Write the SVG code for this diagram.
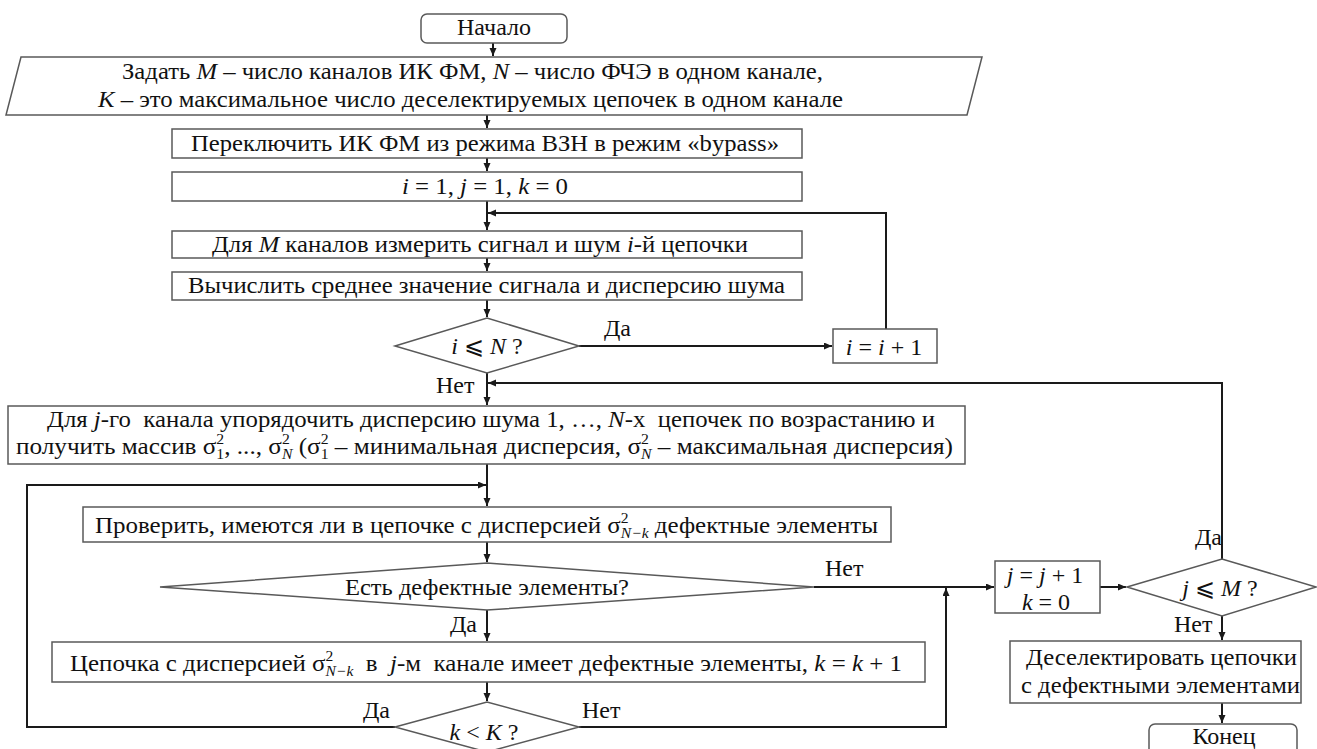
<svg xmlns="http://www.w3.org/2000/svg" width="1317" height="749" viewBox="0 0 1317 749">
<defs>
<style>
.t{font-family:'Liberation Serif','Times New Roman',serif;font-size:24px;fill:#111}
.i{font-style:italic}
.s{font-size:15px}
.m{text-anchor:middle}
.box{fill:#fff;stroke:#595959;stroke-width:1.5}
.ln{fill:none;stroke:#1a1a1a;stroke-width:2}
</style>
<marker id="ar" markerUnits="userSpaceOnUse" markerWidth="9" markerHeight="8" refX="8" refY="3.5" orient="auto">
<path d="M0,0 L8,3.5 L0,7 z" fill="#1a1a1a"/>
</marker>
</defs>
<rect width="1317" height="749" fill="#fff"/>

<g id="connectors">
<path class="ln" d="M493,43 V56" marker-end="url(#ar)"/>
<path class="ln" d="M487,115 V128" marker-end="url(#ar)"/>
<path class="ln" d="M487,158 V171" marker-end="url(#ar)"/>
<path class="ln" d="M487,201 V230" marker-end="url(#ar)"/>
<path class="ln" d="M886,329 V213 H488" marker-end="url(#ar)"/>
<path class="ln" d="M487,258 V271" marker-end="url(#ar)"/>
<path class="ln" d="M487,300 V317" marker-end="url(#ar)"/>
<path class="ln" d="M579,346 H832" marker-end="url(#ar)"/>
<path class="ln" d="M487,373 V405" marker-end="url(#ar)"/>
<path class="ln" d="M1222,559 V383 H488" marker-end="url(#ar)"/>
<path class="ln" d="M487,464 V506" marker-end="url(#ar)"/>
<path class="ln" d="M395,727 H27 V485 H486" marker-end="url(#ar)"/>
<path class="ln" d="M487,542 V562" marker-end="url(#ar)"/>
<path class="ln" d="M487,610 V641" marker-end="url(#ar)"/>
<path class="ln" d="M487,682 V701" marker-end="url(#ar)"/>
<path class="ln" d="M814,587 H994" marker-end="url(#ar)"/>
<path class="ln" d="M579,727 H946 V588" marker-end="url(#ar)"/>
<path class="ln" d="M1100,587 H1126" marker-end="url(#ar)"/>
<path class="ln" d="M1222,616 V640" marker-end="url(#ar)"/>
<path class="ln" d="M1222,703 V723" marker-end="url(#ar)"/>
</g>

<g id="start">
<rect class="box" x="421" y="14" width="146" height="29" rx="6"/>
<text class="t m" x="494" y="35">Начало</text>
</g>

<g id="input">
<polygon class="box" points="21,57 982,57 967,115 6,115"/>
<text class="t" x="122" y="79" textLength="701" lengthAdjust="spacingAndGlyphs">Задать <tspan class="i">M</tspan> – число каналов ИК ФМ, <tspan class="i">N</tspan> – число ФЧЭ в одном канале,</text>
<text class="t" x="98" y="107" textLength="745" lengthAdjust="spacingAndGlyphs"><tspan class="i">K</tspan> – это максимальное число деселектируемых цепочек в одном канале</text>
</g>

<g id="switch">
<rect class="box" x="172" y="129" width="630" height="29"/>
<text class="t" x="191" y="151" textLength="588" lengthAdjust="spacingAndGlyphs">Переключить ИК ФМ из режима ВЗН в режим «bypass»</text>
</g>

<g id="init">
<rect class="box" x="172" y="172" width="630" height="29"/>
<text class="t" x="402" y="194" textLength="166" lengthAdjust="spacingAndGlyphs"><tspan class="i">i</tspan> = 1, <tspan class="i">j</tspan> = 1, <tspan class="i">k</tspan> = 0</text>
</g>

<g id="measure">
<rect class="box" x="172" y="231" width="630" height="27"/>
<text class="t" x="212" y="252" textLength="536" lengthAdjust="spacingAndGlyphs">Для <tspan class="i">M</tspan> каналов измерить сигнал и шум <tspan class="i">i</tspan>-й цепочки</text>
</g>

<g id="compute">
<rect class="box" x="172" y="272" width="630" height="28"/>
<text class="t" x="188" y="293" textLength="597" lengthAdjust="spacingAndGlyphs">Вычислить среднее значение сигнала и дисперсию шума</text>
</g>

<g id="cond-i">
<polygon class="box" points="395,346 487,318 579,346 487,373"/>
<text class="t m" x="487" y="354"><tspan class="i">i</tspan> ⩽ <tspan class="i">N</tspan> ?</text>
<text class="t" x="604" y="336">Да</text>
<text class="t" x="436" y="393">Нет</text>
</g>

<g id="inc-i">
<rect class="box" x="833" y="329" width="104" height="34"/>
<text class="t m" x="884" y="355"><tspan class="i">i</tspan> = <tspan class="i">i</tspan> + 1</text>
</g>

<g id="sort">
<rect class="box" x="8" y="406" width="957" height="58"/>
<text class="t" x="47" y="427" textLength="888" lengthAdjust="spacingAndGlyphs">Для <tspan class="i">j</tspan>-го&#160; канала упорядочить дисперсию шума 1, …, <tspan class="i">N</tspan>-х&#160; цепочек по возрастанию и</text>
<text class="t" x="16" y="454" textLength="937" lengthAdjust="spacingAndGlyphs">получить массив σ<tspan class="s" dy="-10">2</tspan><tspan class="s" dx="-7.5" dy="15">1</tspan><tspan dy="-5">, ..., σ</tspan><tspan class="s" dy="-10">2</tspan><tspan class="s i" dx="-7.5" dy="15">N</tspan><tspan dy="-5"> (σ</tspan><tspan class="s" dy="-10">2</tspan><tspan class="s" dx="-7.5" dy="15">1</tspan><tspan dy="-5"> – минимальная дисперсия, σ</tspan><tspan class="s" dy="-10">2</tspan><tspan class="s i" dx="-7.5" dy="15">N</tspan><tspan dy="-5"> – максимальная дисперсия)</tspan></text>
</g>

<g id="check">
<rect class="box" x="83" y="507" width="808" height="35"/>
<text class="t" x="95" y="533" textLength="783" lengthAdjust="spacingAndGlyphs">Проверить, имеются ли в цепочке с дисперсией σ<tspan class="s" dy="-10">2</tspan><tspan class="s i" dx="-7.5" dy="15">N−k</tspan><tspan dy="-5"> дефектные элементы</tspan></text>
</g>

<g id="cond-defect">
<polygon class="box" points="160,587 487,563 814,587 487,610"/>
<text class="t" x="345" y="595" textLength="284" lengthAdjust="spacingAndGlyphs">Есть дефектные элементы?</text>
<text class="t" x="825" y="576">Нет</text>
<text class="t" x="450" y="632">Да</text>
</g>

<g id="defect">
<rect class="box" x="52" y="642" width="873" height="40"/>
<text class="t" x="70" y="671" textLength="832" lengthAdjust="spacingAndGlyphs">Цепочка с дисперсией σ<tspan class="s" dy="-10">2</tspan><tspan class="s i" dx="-7.5" dy="15">N−k</tspan><tspan dy="-5">&#160; в&#160; </tspan><tspan class="i">j</tspan>-м&#160; канале имеет дефектные элементы, <tspan class="i">k</tspan> = <tspan class="i">k</tspan> + 1</text>
</g>

<g id="cond-k">
<polygon class="box" points="395,727 487,702 579,727 487,752"/>
<text class="t m" x="484" y="740"><tspan class="i">k</tspan> &lt; <tspan class="i">K</tspan> ?</text>
<text class="t" x="363" y="718">Да</text>
<text class="t" x="582" y="718">Нет</text>
</g>

<g id="inc-j">
<rect class="box" x="995" y="561" width="105" height="52"/>
<text class="t m" x="1045" y="583"><tspan class="i">j</tspan> = <tspan class="i">j</tspan> + 1</text>
<text class="t m" x="1046" y="610"><tspan class="i">k</tspan> = 0</text>
</g>

<g id="cond-j">
<polygon class="box" points="1127,587 1222,559 1316,587 1222,616"/>
<text class="t m" x="1220" y="596"><tspan class="i">j</tspan> ⩽ <tspan class="i">M</tspan> ?</text>
<text class="t" x="1195" y="545">Да</text>
<text class="t" x="1174" y="632">Нет</text>
</g>

<g id="deselect">
<rect class="box" x="1010" y="641" width="291" height="62"/>
<text class="t" x="1026" y="665" textLength="271" lengthAdjust="spacingAndGlyphs">Деселектировать цепочки</text>
<text class="t" x="1021" y="693" textLength="279" lengthAdjust="spacingAndGlyphs">с дефектными элементами</text>
</g>

<g id="end">
<rect class="box" x="1149" y="724" width="148" height="36" rx="6"/>
<text class="t m" x="1224" y="744">Конец</text>
</g>
</svg>
